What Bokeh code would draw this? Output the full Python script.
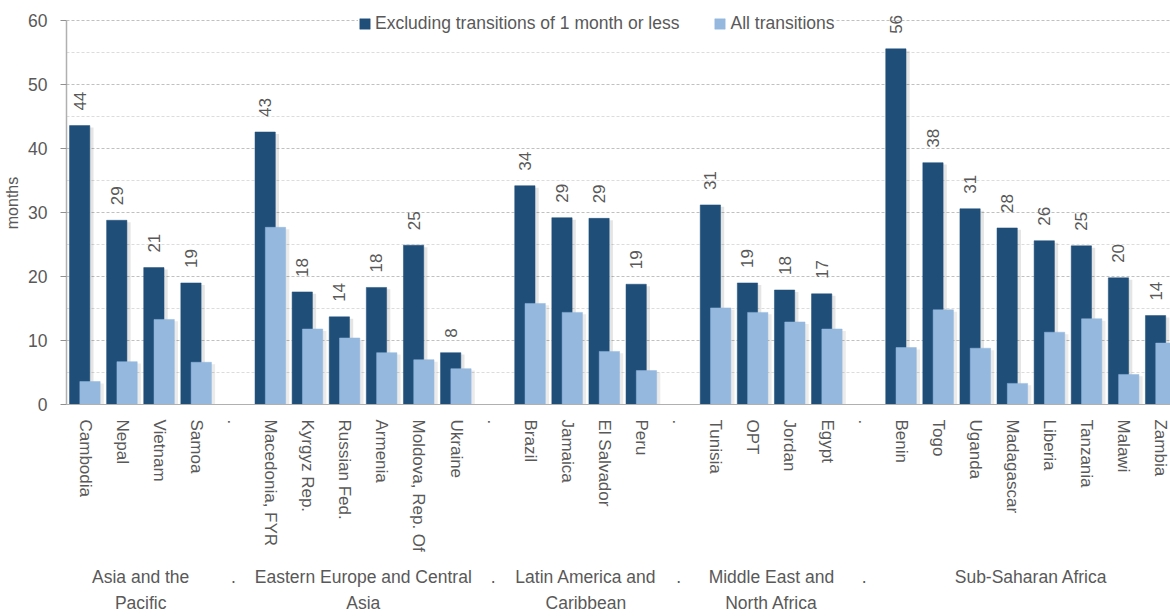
import math
from bokeh.plotting import figure
from bokeh.models import (ColumnDataSource, FixedTicker, LinearAxis, Range1d,
                          Legend, LegendItem, LabelSet)
from bokeh.core.properties import value
from bokeh.embed import file_html
from bokeh.resources import INLINE

# ---------------- data ----------------
countries = ["Cambodia", "Nepal", "Vietnam", "Samoa",
             "Macedonia, FYR", "Kyrgyz Rep.", "Russian Fed.", "Armenia", "Moldova, Rep. Of", "Ukraine",
             "Brazil", "Jamaica", "El Salvador", "Peru",
             "Tunisia", "OPT", "Jordan", "Egypt",
             "Benin", "Togo", "Uganda", "Madagascar", "Liberia", "Tanzania", "Malawi", "Zambia"]
regions = ["Asia and the\nPacific"] * 4 + \
          ["Eastern Europe and Central\nAsia"] * 6 + \
          ["Latin America and\nCaribbean"] * 4 + \
          ["Middle East and\nNorth Africa"] * 4 + \
          ["Sub-Saharan Africa"] * 8
excl_short = [43.6, 28.8, 21.4, 19.0,
              42.6, 17.6, 13.7, 18.3, 24.9, 8.1,
              34.2, 29.2, 29.1, 18.8,
              31.2, 19.0, 17.9, 17.3,
              55.6, 37.8, 30.6, 27.6, 25.6, 24.8, 19.8, 13.9]
all_trans = [3.6, 6.7, 13.3, 6.6,
             27.7, 11.8, 10.4, 8.1, 7.0, 5.6,
             15.8, 14.4, 8.3, 5.3,
             15.1, 14.4, 12.9, 11.8,
             8.9, 14.8, 8.8, 3.3, 11.3, 13.4, 4.7, 9.6]
series_names = ["Excluding transitions of 1 month or less", "All transitions"]
y_ticks = [0, 10, 20, 30, 40, 50, 60]
y_minor = [5, 15, 25, 35, 45, 55]
separator_label = "."

# ---------------- style ----------------
FONT = "Liberation Sans"
TXT = "#595959"
DARK = "#1F4E79"
LIGHT = "#95B8DE"

# slot positions (one empty "." slot between regions)
pos = []
slot = 0
prev = None
sep_slots = []
for r in regions:
    if prev is not None and r != prev:
        sep_slots.append(slot)
        slot += 1
    pos.append(slot)
    slot += 1
    prev = r

region_names = []
for r in regions:
    if r not in region_names:
        region_names.append(r)
region_centers = []
for r in region_names:
    ps = [p_ for p_, rr in zip(pos, regions) if rr == r]
    region_centers.append((min(ps) + max(ps)) / 2)

BW = 0.547
DOFF = -0.145
LOFF = 0.133
SLOT_PX = 37.1
FRAME_W = 1104
Y_TOP = 63  # head room above the 60 line for the value labels

src = ColumnDataSource(dict(
    xd=[p_ + DOFF for p_ in pos],
    xl=[p_ + LOFF for p_ in pos],
    xds=[p_ + DOFF + 0.1 for p_ in pos],
    xls=[p_ + LOFF + 0.1 for p_ in pos],
    d=excl_short,
    l=all_trans,
    ds=[v - 0.3 for v in excl_short],
    ls=[v - 0.3 for v in all_trans],
    lab=[f"{v:.0f}" for v in excl_short],
))

p = figure(frame_width=FRAME_W, frame_height=403,
           x_range=Range1d(-0.5, -0.5 + FRAME_W / SLOT_PX), y_range=Range1d(0, Y_TOP),
           output_backend="svg", toolbar_location=None,
           min_border_left=66, min_border_top=1, min_border_right=0, min_border_bottom=0)
p.outline_line_color = None
p.background_fill_color = "white"

# shadows
p.vbar(x="xds", top="ds", width=BW, source=src, fill_color="black", fill_alpha=0.10, line_color=None)
rd = p.vbar(x="xd", top="d", width=BW, source=src, fill_color=DARK, line_color=DARK, line_width=0.5)
p.vbar(x="xls", top="ls", width=BW, source=src, fill_color="black", fill_alpha=0.08, line_color=None)
rl = p.vbar(x="xl", top="l", width=BW, source=src, fill_color=LIGHT, line_color=LIGHT, line_width=0.5)

labels = LabelSet(x="xd", y="d", text="lab", source=src, angle=math.pi / 2,
                  text_align="left", text_baseline="middle", y_offset=15,
                  text_font=value(FONT), text_font_size=value("17px"), text_color=TXT)
p.add_layout(labels)

# y axis
yax = p.yaxis[0]
yax.ticker = FixedTicker(ticks=y_ticks, minor_ticks=y_minor)
yax.bounds = (0, 60)
yax.axis_label = "months"
yax.axis_label_text_font = FONT
yax.axis_label_text_font_size = "16px"
yax.axis_label_text_font_style = "normal"
yax.axis_label_text_color = TXT
yax.axis_label_standoff = 4
yax.major_label_text_font = FONT
yax.major_label_text_font_size = "17.5px"
yax.major_label_text_color = TXT
yax.major_label_standoff = 13
yax.axis_line_color = "#b0b0b0"
yax.axis_line_width = 1.5
yax.major_tick_line_color = "#909090"
yax.major_tick_in = 0
yax.major_tick_out = 6
yax.minor_tick_line_color = None

p.ygrid.ticker = yax.ticker
p.ygrid.grid_line_color = "#c0c0c0"
p.ygrid.grid_line_dash = "3 2"
p.ygrid.minor_grid_line_color = "#dcdcdc"
p.ygrid.minor_grid_line_dash = "3 2"
p.xgrid.grid_line_color = None

# x axis: countries
xax = p.xaxis[0]
xax.ticker = FixedTicker(ticks=list(pos) + sep_slots, minor_ticks=[])
ov = {p_: c for p_, c in zip(pos, countries)}
for s in sep_slots:
    ov[s] = separator_label
xax.major_label_overrides = ov
xax.major_label_orientation = "vertical"
xax.major_label_text_font = FONT
xax.major_label_text_font_size = "17px"
xax.major_label_text_color = TXT
xax.major_label_standoff = 9
xax.axis_line_color = "#b0b0b0"
xax.major_tick_line_color = None
xax.minor_tick_line_color = None

# second x axis: regions
gax = LinearAxis()
gax.ticker = FixedTicker(ticks=region_centers + sep_slots, minor_ticks=[])
gov = {c: n for c, n in zip(region_centers, region_names)}
for s in sep_slots:
    gov[s] = separator_label
gax.major_label_overrides = gov
gax.major_label_orientation = "horizontal"
gax.major_label_text_font = FONT
gax.major_label_text_font_size = "17.5px"
gax.major_label_text_color = TXT
gax.major_label_text_align = "center"
gax.major_label_text_line_height = 1.3
gax.major_label_standoff = 6
gax.axis_line_color = None
gax.major_tick_line_color = None
gax.minor_tick_line_color = None
p.add_layout(gax, "below")

legend = Legend(items=[LegendItem(label=series_names[0], renderers=[rd]),
                       LegendItem(label=series_names[1], renderers=[rl])],
                orientation="horizontal", location=(292, 370),
                label_text_font=FONT, label_text_font_size="17.5px", label_text_color=TXT,
                glyph_width=13, glyph_height=13, label_standoff=4, spacing=34,
                padding=5, margin=0, border_line_color=None,
                background_fill_color="white", background_fill_alpha=1.0)
p.add_layout(legend, "center")

open("out.html", "w").write(file_html(p, INLINE))
